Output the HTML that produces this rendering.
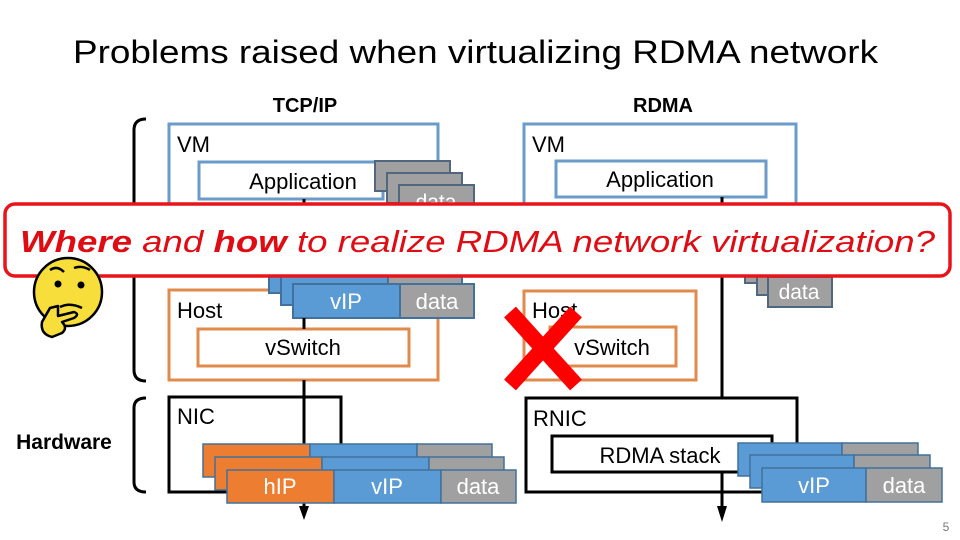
<!DOCTYPE html>
<html><head><meta charset="utf-8"><style>
html,body{margin:0;padding:0;background:#fff;}
svg{display:block;font-family:"Liberation Sans",sans-serif;}
</style></head><body>
<svg width="960" height="540" viewBox="0 0 960 540" xmlns="http://www.w3.org/2000/svg">
<text x="73" y="63" font-size="32" textLength="805" lengthAdjust="spacingAndGlyphs" fill="#000">Problems raised when virtualizing RDMA network</text>
<text x="305" y="112" font-size="20" font-weight="bold" text-anchor="middle">TCP/IP</text>
<text x="663" y="112" font-size="20" font-weight="bold" text-anchor="middle">RDMA</text>

<!-- braces -->
<path d="M146,119 Q134,119 134,130 L134,370 Q134,381 146,381" fill="none" stroke="#000" stroke-width="3"/>
<path d="M146,398 Q134,398 134,408 L134,482 Q134,492 146,492" fill="none" stroke="#000" stroke-width="3"/>
<text x="64" y="449" font-size="21" font-weight="bold" text-anchor="middle">Hardware</text>

<!-- LEFT column -->
<rect x="169" y="124" width="269" height="120" fill="#fff" stroke="#6a9bc9" stroke-width="3"/>
<text x="177" y="152" font-size="22">VM</text>
<rect x="199" y="162" width="184" height="37" fill="#fff" stroke="#6a9bc9" stroke-width="3"/>
<text x="303" y="189" font-size="22" text-anchor="middle">Application</text>
<line x1="304" y1="199" x2="304" y2="508" stroke="#000" stroke-width="3"/>
<polygon points="299,506 309,506 304,520" fill="#000"/>
<g stroke="#51667f" stroke-width="2">
<rect x="375" y="161" width="75" height="30" fill="#a0a0a0"/>
<rect x="387" y="173" width="75" height="30" fill="#a0a0a0"/>
<rect x="399" y="185" width="75" height="30" fill="#a0a0a0"/>
</g>
<text x="436" y="209" font-size="21" fill="#fff" text-anchor="middle">data</text>

<rect x="169" y="290" width="269" height="90" fill="#fff" stroke="#e08a4c" stroke-width="3"/>
<text x="177" y="318" font-size="22">Host</text>
<rect x="198" y="329" width="211" height="37" fill="#fff" stroke="#e08a4c" stroke-width="3"/>
<text x="303" y="355" font-size="22" text-anchor="middle">vSwitch</text>
<g stroke="#41719c" stroke-width="2">
<rect x="269" y="259" width="107" height="34" fill="#5b9bd5"/><rect x="376" y="259" width="74" height="34" fill="#a0a0a0"/>
<rect x="281" y="271" width="107" height="34" fill="#5b9bd5"/><rect x="388" y="271" width="74" height="34" fill="#a0a0a0"/>
<rect x="293" y="284" width="107" height="34" fill="#5b9bd5"/><rect x="400" y="284" width="74" height="34" fill="#a0a0a0"/>
</g>
<text x="346" y="309" font-size="22" fill="#fff" text-anchor="middle">vIP</text>
<text x="437" y="309" font-size="22" fill="#fff" text-anchor="middle">data</text>
<line x1="304" y1="318" x2="304" y2="329" stroke="#000" stroke-width="3"/>

<rect x="169" y="397" width="172" height="95" fill="#fff" stroke="#000" stroke-width="3"/>
<line x1="304" y1="380" x2="304" y2="470" stroke="#000" stroke-width="3"/>
<text x="177" y="424" font-size="22">NIC</text>
<g stroke="#41719c" stroke-width="1.5">
<rect x="203" y="444" width="107" height="33" fill="#ed7d31"/><rect x="310" y="444" width="107" height="33" fill="#5b9bd5"/><rect x="417" y="444" width="75" height="33" fill="#a0a0a0"/>
<rect x="215" y="457" width="107" height="33" fill="#ed7d31"/><rect x="322" y="457" width="107" height="33" fill="#5b9bd5"/><rect x="429" y="457" width="75" height="33" fill="#a0a0a0"/>
<rect x="227" y="470" width="107" height="33" fill="#ed7d31"/><rect x="334" y="470" width="107" height="33" fill="#5b9bd5"/><rect x="441" y="470" width="75" height="33" fill="#a0a0a0"/>
</g>
<text x="280" y="494" font-size="22" fill="#fff" text-anchor="middle">hIP</text>
<text x="387" y="494" font-size="22" fill="#fff" text-anchor="middle">vIP</text>
<text x="478" y="494" font-size="22" fill="#fff" text-anchor="middle">data</text>

<!-- RIGHT column -->
<rect x="524" y="124" width="272" height="120" fill="#fff" stroke="#6a9bc9" stroke-width="3"/>
<text x="532" y="152" font-size="22">VM</text>
<rect x="556" y="161" width="210" height="36" fill="#fff" stroke="#6a9bc9" stroke-width="3"/>
<text x="660" y="187" font-size="22" text-anchor="middle">Application</text>
<line x1="722" y1="197" x2="722" y2="508" stroke="#000" stroke-width="3"/>
<polygon points="717,506 727,506 722,522" fill="#000"/>
<g stroke="#51667f" stroke-width="2">
<rect x="745" y="253" width="75" height="30" fill="#a0a0a0"/>
<rect x="757" y="265" width="75" height="30" fill="#a0a0a0"/>
<rect x="768" y="277" width="64" height="30" fill="#a0a0a0"/>
</g>
<text x="799" y="299" font-size="21" fill="#fff" text-anchor="middle">data</text>

<rect x="524" y="291" width="172" height="89" fill="#fff" stroke="#e08a4c" stroke-width="3"/>
<text x="532" y="318" font-size="22">Host</text>
<rect x="550" y="327" width="126" height="39" fill="#fff" stroke="#e08a4c" stroke-width="3"/>
<text x="612" y="355" font-size="22" text-anchor="middle">vSwitch</text>
<g stroke="#ff0000" stroke-width="16" stroke-linecap="butt">
<line x1="510" y1="312" x2="576" y2="385"/>
<line x1="576" y1="312" x2="510" y2="385"/>
</g>

<rect x="526" y="398" width="271" height="94" fill="#fff" stroke="#000" stroke-width="3"/>
<text x="533" y="426" font-size="22">RNIC</text>
<rect x="552" y="436" width="220" height="36" fill="#fff" stroke="#000" stroke-width="3"/>
<text x="660" y="463" font-size="22" text-anchor="middle">RDMA stack</text>
<line x1="722" y1="472" x2="722" y2="510" stroke="#000" stroke-width="3"/>
<g stroke="#41719c" stroke-width="1.5">
<rect x="738" y="443" width="104" height="33" fill="#5b9bd5"/><rect x="842" y="443" width="76" height="33" fill="#a0a0a0"/>
<rect x="750" y="455" width="104" height="33" fill="#5b9bd5"/><rect x="854" y="455" width="76" height="33" fill="#a0a0a0"/>
<rect x="762" y="468" width="104" height="34" fill="#5b9bd5"/><rect x="866" y="468" width="76" height="34" fill="#a0a0a0"/>
</g>
<text x="814" y="493" font-size="22" fill="#fff" text-anchor="middle">vIP</text>
<text x="904" y="493" font-size="22" fill="#fff" text-anchor="middle">data</text>

<!-- banner -->
<rect x="5" y="204" width="945" height="72" rx="10" fill="#fff" stroke="#e8141c" stroke-width="3.5"/>
<text x="20" y="252" font-size="31" font-style="italic" fill="#e00c14" textLength="915" lengthAdjust="spacingAndGlyphs"><tspan font-weight="bold">Where</tspan> and <tspan font-weight="bold">how</tspan> to realize RDMA network virtualization?</text>

<!-- emoji -->
<circle cx="68" cy="292" r="34" fill="#f7de3a" stroke="#000" stroke-width="2.5"/>
<path d="M50,270 Q57,265 64,272" fill="none" stroke="#000" stroke-width="2.5"/>
<path d="M74,268 Q82,265 90,270" fill="none" stroke="#000" stroke-width="2.5"/>
<circle cx="58" cy="284" r="3.5" fill="#000"/>
<circle cx="81" cy="285" r="3.5" fill="#000"/>
<path d="M60,307 Q70,302 82,308" fill="none" stroke="#000" stroke-width="2.5"/>
<path d="M50,308 L42,322 Q40,334 52,337 L62,333 Q68,328 62,322 L74,318 Q80,314 74,312 L58,316 L58,306 Z" fill="#f7de3a" stroke="#000" stroke-width="2.5" stroke-linejoin="round"/>

<text x="946" y="531" font-size="12" fill="#777" text-anchor="middle">5</text>
</svg>
</body></html>
